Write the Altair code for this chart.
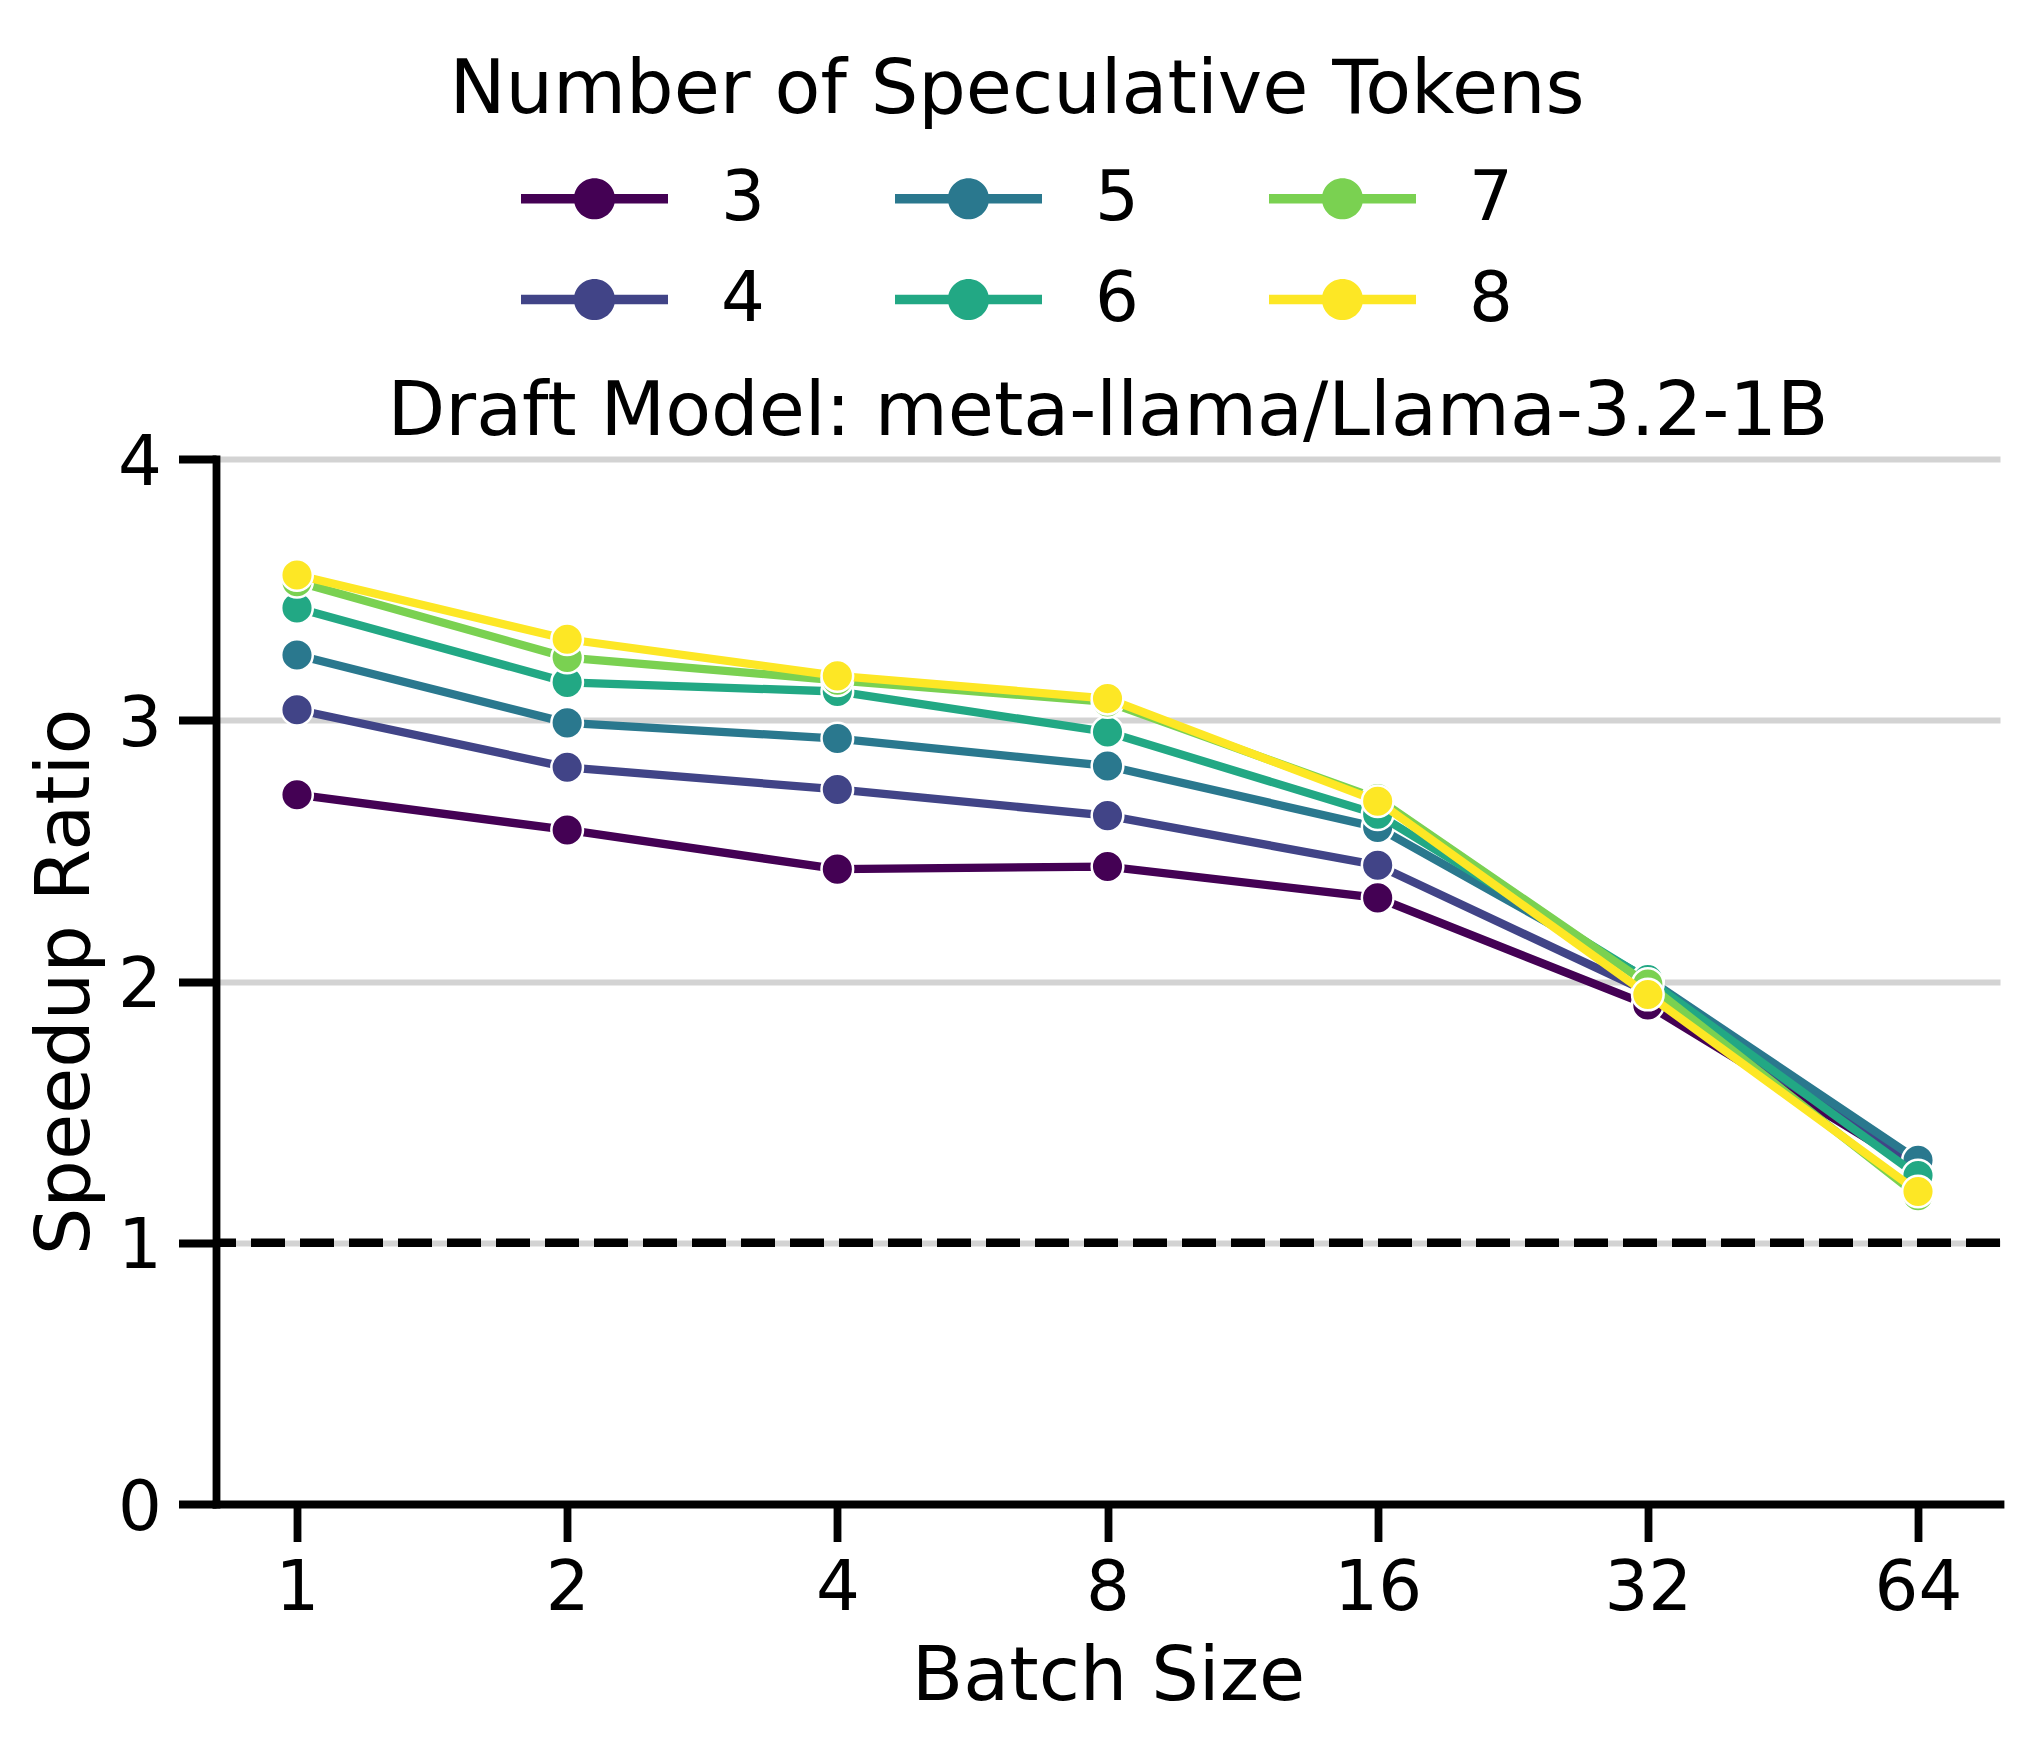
import altair as alt
import pandas as pd

batch_sizes = [1, 2, 4, 8, 16, 32, 64]
tokens = [3, 4, 5, 6, 7, 8]
speedup = {
    3: [2.715, 2.58, 2.43, 2.44, 2.32, 1.91, 1.28],
    4: [3.04, 2.82, 2.735, 2.635, 2.445, 1.96, 1.29],
    5: [3.25, 2.99, 2.93, 2.825, 2.59, 2.01, 1.316],
    6: [3.43, 3.145, 3.11, 2.955, 2.64, 2.007, 1.257],
    7: [3.53, 3.24, 3.153, 3.07, 2.70, 1.99, 1.18],
    8: [3.556, 3.31, 3.17, 3.083, 2.69, 1.95, 1.196],
}
colors = {3: "#440154", 4: "#414487", 5: "#2a788e", 6: "#22a884", 7: "#7ad151", 8: "#fde725"}

rows = []
for t in tokens:
    for b, v in zip(batch_sizes, speedup[t]):
        rows.append({"Batch Size": b, "Speedup Ratio": v, "tokens": t})
df = pd.DataFrame(rows)

FONT = "DejaVu Sans"

x_enc = alt.X(
    "Batch Size:Q",
    scale=alt.Scale(type="log", base=2, domain=[2 ** -0.2998, 2 ** 6.3035], nice=False, zero=False),
    axis=alt.Axis(values=batch_sizes, title="Batch Size", format="d", grid=False,
                  titleBaseline="alphabetic", titleY=195),
)
y_enc = alt.Y(
    "Speedup Ratio:Q",
    scale=alt.Scale(domain=[0, 4], nice=False, zero=True),
    axis=alt.Axis(values=[0, 1, 2, 3, 4], title="Speedup Ratio", format="d", grid=True,
                  labelBaseline="alphabetic", labelOffset=25,
                  titleBaseline="alphabetic", titleX=-128),
)

legend_path = ("M-1,-0.063H1V0.063H-1Z "
               "M0.28,0A0.28,0.28 0 1,1 -0.28,0A0.28,0.28 0 1,1 0.28,0Z")

color_scale = alt.Scale(domain=tokens, range=[colors[t] for t in tokens])

color_legend = alt.Color(
    "tokens:N",
    scale=color_scale,
    legend=alt.Legend(
        title="Number of Speculative Tokens",
        orient="none", legendX=233, legendY=-405,
        columns=3, columnPadding=130, rowPadding=31,
        clipHeight=69, padding=0,
        symbolType=legend_path, symbolSize=21609, symbolStrokeWidth=0,
        symbolOpacity=1,
        labelFont=FONT, labelFontSize=69, labelColor="black", labelOffset=53,
        titleFont=FONT, titleFontSize=75, titleFontWeight="normal", titleColor="black",
        titleAnchor="middle", titleAlign="center", titlePadding=35, titleLimit=3000,
    ),
)
color_noleg = alt.Color("tokens:N", scale=color_scale, legend=None)

base = alt.Chart(df)

# invisible layer that only carries the legend
legend_layer = base.transform_filter("false").mark_point(
    filled=True, opacity=1, size=990
).encode(x=x_enc, y=y_enc, color=color_legend)

layers = []
for t in tokens:
    sub = base.transform_filter(alt.datum.tokens == t)
    layers.append(sub.mark_line(strokeWidth=8.3).encode(x=x_enc, y=y_enc, color=color_noleg))
    layers.append(
        sub.mark_point(filled=True, size=1000, opacity=1, stroke="white", strokeWidth=2.5)
        .encode(x=x_enc, y=y_enc, color=color_noleg)
    )

ref_line = alt.Chart(pd.DataFrame({"y": [1]})).mark_rule(
    color="black", strokeWidth=8.5, strokeDash=[34, 15]
).encode(y=alt.Y("y:Q"))

chart = alt.layer(legend_layer, ref_line, *layers).properties(
    width=1784,
    height=1045,
    background="white",
    title=alt.TitleParams(
        "Draft Model: meta-llama/Llama-3.2-1B",
        font=FONT, fontSize=75, fontWeight="normal", color="black",
        anchor="middle", frame="group", baseline="alphabetic", offset=0, dy=456,
    ),
    autosize=alt.AutoSizeParams(type="none"),
    padding={"left": 208, "top": 451, "right": 21, "bottom": 231},
).configure_view(stroke=None).configure_axis(
    labelFont=FONT, labelFontSize=69, labelColor="black",
    titleFont=FONT, titleFontSize=75, titleFontWeight="normal", titleColor="black",
    domainColor="black", domainWidth=7.8, domainCap="square",
    tickColor="black", tickWidth=7.8, tickSize=37.5,
    gridColor="#d3d3d3", gridWidth=6,
    labelPadding=13,
).configure_axisY(labelPadding=17)

chart.save("out.html", embed_options={"renderer": "svg", "actions": False})
